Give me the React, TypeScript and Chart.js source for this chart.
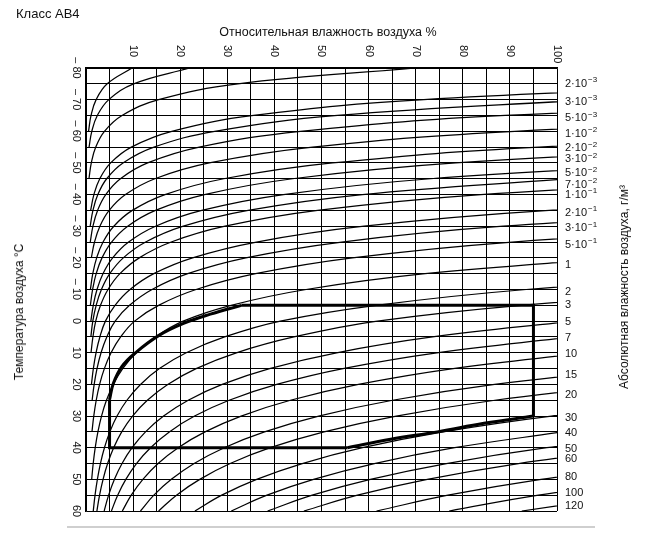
import React, { useEffect, useRef } from 'react';
import { Chart, registerables } from 'chart.js';

Chart.register(...registerables);

// Saturation absolute humidity (g/m3) at each temperature (over ice below 0 °C)
const satTemps = [-80, -75, -70, -65, -60, -55, -50, -45, -40, -35, -30, -25, -20, -15, -10, -5, 0, 5, 10, 15, 20, 25, 30, 35, 40, 45, 50, 55, 60];
const satHumidity = [0.000614, 0.001334, 0.002789, 0.005619, 0.01098, 0.02079, 0.03822, 0.0684, 0.1193, 0.2034, 0.3387, 0.5526, 0.8842, 1.389, 2.14, 3.246, 4.848, 6.798, 9.4, 12.83, 17.29, 23.04, 30.36, 39.58, 51.1, 65.35, 82.8, 104.1, 129.7];

// Isolines of absolute humidity, g/m3
const isoValues = [0.00006, 0.000135, 0.00043, 0.002, 0.003, 0.005, 0.01, 0.02, 0.03, 0.05, 0.07, 0.1, 0.2, 0.3, 0.5, 1, 2, 3, 5, 7, 10, 15, 20, 30, 40, 50, 60, 80, 100, 120];
const isoLabels = ['', '', '', '2·10^-3', '3·10^-3', '5·10^-3', '1·10^-2', '2·10^-2', '3·10^-2', '5·10^-2', '7·10^-2', '1·10^-1', '2·10^-1', '3·10^-1', '5·10^-1', '1', '2', '3', '5', '7', '10', '15', '20', '30', '40', '50', '60', '80', '100', '120'];
const isoLabelTemps = [null, null, null, -74.9, -69.4, -64.1, -59.1, -54.6, -51.1, -46.7, -43.0, -39.9, -34.1, -29.3, -24.1, -17.7, -9.3, -5.1, 0.4, 5.4, 10.4, 17.0, 23.3, 30.7, 35.3, 40.4, 43.6, 49.4, 54.4, 58.3];

// Axis tick labels
const rhTickLabels = [10, 20, 30, 40, 50, 60, 70, 80, 90, 100];
const tempTickLabels = [-80, -70, -60, -50, -40, -30, -20, -10, 0, 10, 20, 30, 40, 50, 60];

// Climatic class AB4 boundary (RH %, temperature °C)
const edgeTopRH = [33, 95, 95];
const edgeTopT = [-5, -5, 30];
const edgeWetRH = [95, 84.5, 74.6, 64.7, 55.5];
const edgeWetT = [30, 32.3, 35, 37.3, 40];
const edgeHotRH = [55.5, 5, 5];
const edgeHotT = [40, 40, 24.8];
const edgeDryRH = [5, 5.8, 7.6, 10.5, 15.5, 20.7, 26.4, 33];
const edgeDryT = [24.8, 19.7, 14.4, 10, 4.5, 0.7, -2.2, -5];

const FONT = '"Liberation Sans", Arial, Helvetica, sans-serif';

// where the isolines stop at the dry (left) side
function leftCut(t: number) {
  if (t <= -60) return 0.45;
  if (t >= 30) return 1.2;
  return 0.45 + ((t + 60) / 90) * 0.75;
}

function pts(xs: number[], ys: number[]) {
  return xs.map((x, i) => ({ x, y: ys[i] }));
}

function isoPoints(a: number) {
  const out: { x: number; y: number }[] = [];
  for (let i = 0; i < satTemps.length; i++) {
    const rh = (100 * a) / satHumidity[i];
    if (rh < leftCut(satTemps[i])) break;
    if (rh > 100) out.length = 0;
    out.push({ x: rh, y: satTemps[i] });
  }
  return out;
}

const labelPlugin = {
  id: 'abLabels',
  afterDraw(chart: any) {
    const ctx = chart.ctx as CanvasRenderingContext2D;
    const xs = chart.scales.x;
    const ys = chart.scales.y;
    ctx.save();
    ctx.fillStyle = '#111';
    ctx.font = `11px ${FONT}`;
    for (const v of rhTickLabels) {
      const px = xs.getPixelForValue(v);
      ctx.save();
      ctx.translate(px, 45);
      ctx.rotate(Math.PI / 2);
      ctx.textAlign = 'left';
      ctx.textBaseline = 'middle';
      ctx.fillText(String(v), 0, 0);
      ctx.restore();
    }
    for (const v of tempTickLabels) {
      const py = ys.getPixelForValue(v);
      const txt = v < 0 ? '– ' + String(-v) : String(v);
      ctx.save();
      ctx.translate(76, py);
      ctx.rotate(Math.PI / 2);
      ctx.textAlign = 'center';
      ctx.textBaseline = 'middle';
      ctx.fillText(txt, 0, 0);
      ctx.restore();
    }
    ctx.textAlign = 'left';
    ctx.textBaseline = 'middle';
    isoLabels.forEach((lab, i) => {
      const t = isoLabelTemps[i];
      if (!lab || t === null) return;
      const py = ys.getPixelForValue(t);
      const [base, exp] = lab.split('^');
      ctx.font = `11px ${FONT}`;
      ctx.fillText(base, 565, py);
      if (exp) {
        const w = ctx.measureText(base).width;
        ctx.font = `8px ${FONT}`;
        ctx.fillText(exp.replace('-', '−'), 565 + w + 1, py - 4);
      }
    });
    ctx.restore();
  },
};

export default function App() {
  const ref = useRef<HTMLCanvasElement | null>(null);
  useEffect(() => {
    document.body.style.margin = '0';
    if (!ref.current) return;
    const thin = isoValues.map((a) => ({
      data: isoPoints(a),
      showLine: true,
      borderColor: '#000',
      borderWidth: 1.25,
      pointRadius: 0,
      tension: 0.4,
    }));
    const thick = [
      { data: pts(edgeTopRH, edgeTopT), tension: 0 },
      { data: pts(edgeWetRH, edgeWetT), tension: 0.4 },
      { data: pts(edgeHotRH, edgeHotT), tension: 0 },
      { data: pts(edgeDryRH, edgeDryT), tension: 0.4 },
    ].map((d) => ({ ...d, showLine: true, borderColor: '#000', borderWidth: 3, pointRadius: 0 }));
    const chart = new Chart(ref.current, {
      type: 'scatter',
      data: { datasets: [...thin, ...thick] as any },
      options: {
        animation: false,
        responsive: false,
        maintainAspectRatio: false,
        events: [],
        layout: { padding: { left: 86, top: 68, right: 89, bottom: 37 } },
        plugins: { legend: { display: false }, tooltip: { enabled: false }, title: { display: false } },
        scales: {
          x: {
            type: 'linear',
            position: 'top',
            min: 0,
            max: 100,
            ticks: { stepSize: 5, display: false },
            grid: { color: '#000', lineWidth: 1, drawTicks: false },
            border: { color: '#000', width: 1.2 },
          },
          y: {
            type: 'linear',
            reverse: true,
            min: -80,
            max: 60,
            ticks: { stepSize: 5, display: false },
            grid: { color: '#000', lineWidth: 1, drawTicks: false },
            border: { color: '#000', width: 1.2 },
          },
        },
      },
      plugins: [labelPlugin],
    });
    return () => chart.destroy();
  }, []);

  const rot = (deg: number): React.CSSProperties => ({
    position: 'absolute',
    transform: `translate(-50%, -50%) rotate(${deg}deg)`,
    whiteSpace: 'nowrap',
    fontFamily: FONT,
    fontSize: 12,
    color: '#111',
  });

  return (
    <div style={{ position: 'fixed', left: 0, top: 0, width: 646, height: 548, background: '#fff', overflow: 'hidden' }}>
      <canvas ref={ref} width={646} height={548} style={{ position: 'absolute', left: 0, top: 0, width: 646, height: 548 }} />
      <div style={{ position: 'absolute', left: 16, top: 6, fontFamily: FONT, fontSize: 13, color: '#111' }}>Класс АВ4</div>
      <div style={{ ...rot(0), left: 328, top: 32, fontSize: 12.5 }}>Относительная влажность воздуха %</div>
      <div style={{ ...rot(-90), left: 19, top: 312 }}>Температура воздуха °С</div>
      <div style={{ ...rot(-90), left: 624, top: 287 }}>Абсолютная влажность воздуха, г/м³</div>
      <div style={{ position: 'absolute', left: 67, top: 526, width: 528, height: 2, background: '#cfcfcf' }} />
    </div>
  );
}
